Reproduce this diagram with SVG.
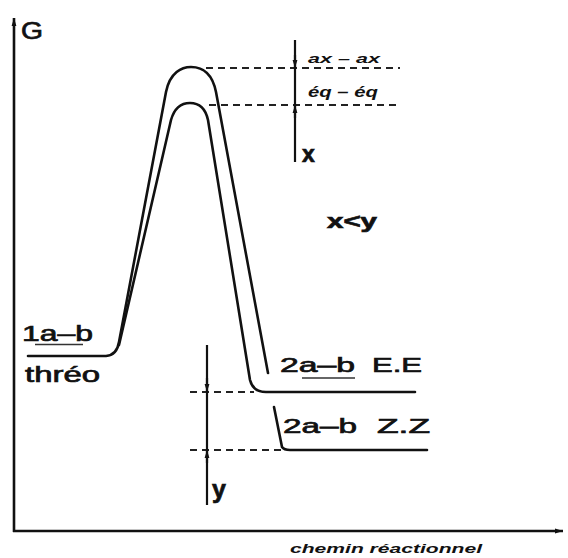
<svg xmlns="http://www.w3.org/2000/svg" width="568" height="558" viewBox="0 0 568 558">
<style>
.ln{fill:none;stroke:#111;stroke-width:2.6;stroke-linecap:round;stroke-linejoin:round}
.ax{fill:none;stroke:#111;stroke-width:2.6}
.dim{fill:none;stroke:#111;stroke-width:2.2}
.dash{fill:none;stroke:#222;stroke-width:2;stroke-dasharray:7 5}
.t{font-family:"Liberation Sans",Arial,sans-serif;fill:#111;stroke:#111;stroke-width:0.7}
.it{font-family:"Liberation Sans",Arial,sans-serif;font-style:italic;font-weight:bold;fill:#111}
</style>
<defs>
<marker id="ahs" viewBox="0 0 10 10" refX="10" refY="5" markerWidth="8" markerHeight="8" orient="auto" markerUnits="userSpaceOnUse">
<path d="M0,2 L10,5 L0,8 Z" fill="#111"/>
</marker>
</defs>
<rect width="568" height="558" fill="#fff"/>
<g id="connectors">
<path class="ax" d="M14,532 L14,18" marker-end="url(#ahs)"/>
<path class="ax" d="M13,531 L563,531" marker-end="url(#ahs)"/>
<line class="dash" x1="206" y1="68" x2="400" y2="68"/>
<line class="dash" x1="209" y1="105" x2="400" y2="105"/>
<line class="dash" x1="190" y1="392" x2="254" y2="392"/>
<line class="dash" x1="190" y1="450" x2="286" y2="450"/>
<line class="dim" x1="295" y1="40" x2="295" y2="162"/>
<path class="dim" d="M295,55 L295,68" marker-end="url(#ahs)"/>
<path class="dim" d="M295,118 L295,105" marker-end="url(#ahs)"/>
<line class="dim" x1="207" y1="345" x2="207" y2="505"/>
<path class="dim" d="M207,378 L207,392" marker-end="url(#ahs)"/>
<path class="dim" d="M207,463 L207,450" marker-end="url(#ahs)"/>
</g>
<g id="curve-ax">
<path class="ln" d="M28,356 L106,356 Q117,355 119,342 L166,92 C170,72 182,67 191,67 C201,67 212,72 216,92 L268,373"/>
</g>
<g id="curve-eq">
<path class="ln" d="M119,345 L171,120 C175,106 183,103 190,103 C197,103 205,106 208,120 L250,380 Q253,392 266,392 L415,392"/>
</g>
<g id="curve-zz">
<path class="ln" d="M274,407 L282,447 Q284,450 290,450 L427,450"/>
</g>
<g id="label-G"><text class="t" x="21" y="39" font-size="24" textLength="22" lengthAdjust="spacingAndGlyphs">G</text></g>
<g id="label-1ab">
<text class="t" x="22" y="341" font-size="22" textLength="71" lengthAdjust="spacingAndGlyphs">1a–b</text>
<line x1="35" y1="344.5" x2="83" y2="344.5" stroke="#333" stroke-width="1.6"/>
<text class="t" x="25" y="382" font-size="22" textLength="75" lengthAdjust="spacingAndGlyphs">thréo</text>
</g>
<g id="label-EE">
<text class="t" x="280" y="372" font-size="21" textLength="75" lengthAdjust="spacingAndGlyphs">2a–b</text>
<text class="t" x="372" y="372" font-size="21" textLength="50" lengthAdjust="spacingAndGlyphs">E.E</text>
<line x1="302" y1="378" x2="355" y2="378" stroke="#333" stroke-width="1.6"/>
</g>
<g id="label-ZZ">
<text class="t" x="283" y="433" font-size="21" textLength="74" lengthAdjust="spacingAndGlyphs">2a–b</text>
<text class="t" x="377" y="433" font-size="21" textLength="53" lengthAdjust="spacingAndGlyphs">Z.Z</text>
</g>
<g id="label-axax"><text class="it" x="308" y="63" font-size="13" textLength="72" lengthAdjust="spacingAndGlyphs">ax – ax</text></g>
<g id="label-eqeq"><text class="it" x="308" y="97" font-size="15" textLength="70" lengthAdjust="spacingAndGlyphs">éq – éq</text></g>
<g id="label-x"><text class="t" x="302" y="162" font-size="23" font-weight="bold">x</text></g>
<g id="label-xy"><text class="t" x="327" y="228" font-size="20" font-weight="bold" textLength="50" lengthAdjust="spacingAndGlyphs">x&lt;y</text></g>
<g id="label-y"><text class="t" x="212" y="498" font-size="25" font-weight="bold">y</text></g>
<g id="label-axis"><text class="it" x="290" y="553" font-size="13" textLength="192" lengthAdjust="spacingAndGlyphs">chemin  réactionnel</text></g>
</svg>
